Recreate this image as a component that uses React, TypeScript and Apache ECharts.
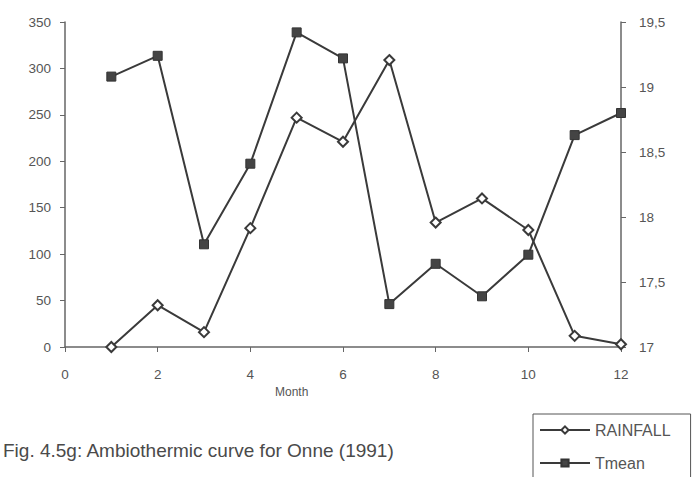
import React, { useEffect, useRef } from "react";
import * as echarts from "echarts";

const months = [1, 2, 3, 4, 5, 6, 7, 8, 9, 10, 11, 12];
const rainfall = [0, 45, 16, 128, 247, 221, 309, 134, 160, 126, 12, 3];
const tmean = [19.08, 19.24, 17.79, 18.41, 19.42, 19.22, 17.33, 17.64, 17.39, 17.71, 18.63, 18.8];

const FONT = "'Liberation Sans', Arial, sans-serif";
const INK = "#3a3a3a";
const TEXT = "#555555";

export default function App() {
  const ref = useRef<HTMLDivElement>(null);
  useEffect(() => {
    if (!ref.current) return;
    const chart = echarts.init(ref.current, undefined, { renderer: "svg" });
    const axisCommon = {
      axisLine: { show: true, lineStyle: { color: "#666", width: 1.5 } },
      axisTick: { show: true, length: 5, lineStyle: { color: "#666" } },
      splitLine: { show: false },
      axisLabel: { color: TEXT, fontFamily: FONT, fontSize: 13.5 },
    };
    chart.setOption({
      animation: false,
      backgroundColor: "#ffffff",
      grid: { left: 65, right: 72, top: 22, bottom: 130, containLabel: false },
      xAxis: {
        type: "value",
        min: 0,
        max: 12,
        interval: 2,
        ...axisCommon,
        axisLabel: { ...axisCommon.axisLabel, margin: 20 },
      },
      yAxis: [
        {
          type: "value",
          min: 0,
          max: 350,
          interval: 50,
          position: "left",
          ...axisCommon,
          axisLabel: { ...axisCommon.axisLabel, margin: 14 },
        },
        {
          type: "value",
          min: 17,
          max: 19.5,
          interval: 0.5,
          position: "right",
          ...axisCommon,
          axisLabel: {
            ...axisCommon.axisLabel,
            margin: 18,
            formatter: (v: number) => String(v).replace(".", ","),
          },
        },
      ],
      legend: {
        orient: "vertical",
        left: 533,
        top: 414,
        height: 80,
        width: 200,
        padding: [8, 20, 8, 6],
        itemGap: 17,
        itemWidth: 50,
        itemHeight: 9,
        borderColor: "#555",
        borderWidth: 1,
        textStyle: { color: TEXT, fontFamily: FONT, fontSize: 16 },
        data: ["RAINFALL", "Tmean"],
      },
      series: [
        {
          name: "RAINFALL",
          type: "line",
          yAxisIndex: 0,
          data: months.map((m, i) => [m, rainfall[i]]),
          symbol: "emptyDiamond",
          symbolSize: 10,
          lineStyle: { color: INK, width: 2 },
          itemStyle: { color: INK, borderColor: INK, borderWidth: 1.5 },
        },
        {
          name: "Tmean",
          type: "line",
          yAxisIndex: 1,
          data: months.map((m, i) => [m, tmean[i]]),
          symbol: "rect",
          symbolSize: 9,
          lineStyle: { color: INK, width: 2 },
          itemStyle: { color: "#444", borderColor: "#333", borderWidth: 1 },
        },
      ],
      graphic: [
        {
          type: "text",
          left: 275,
          top: 386,
          style: { text: "Month", fill: TEXT, font: `12px ${FONT}` },
        },
        {
          type: "text",
          left: 3,
          top: 441,
          style: {
            text: "Fig. 4.5g: Ambiothermic curve for Onne (1991)",
            fill: "#4a4a4a",
            font: `19px ${FONT}`,
          },
        },
      ],
    });
    return () => chart.dispose();
  }, []);
  return <div ref={ref} style={{ width: 693, height: 477, position: "absolute", left: 0, top: 0 }} />;
}
